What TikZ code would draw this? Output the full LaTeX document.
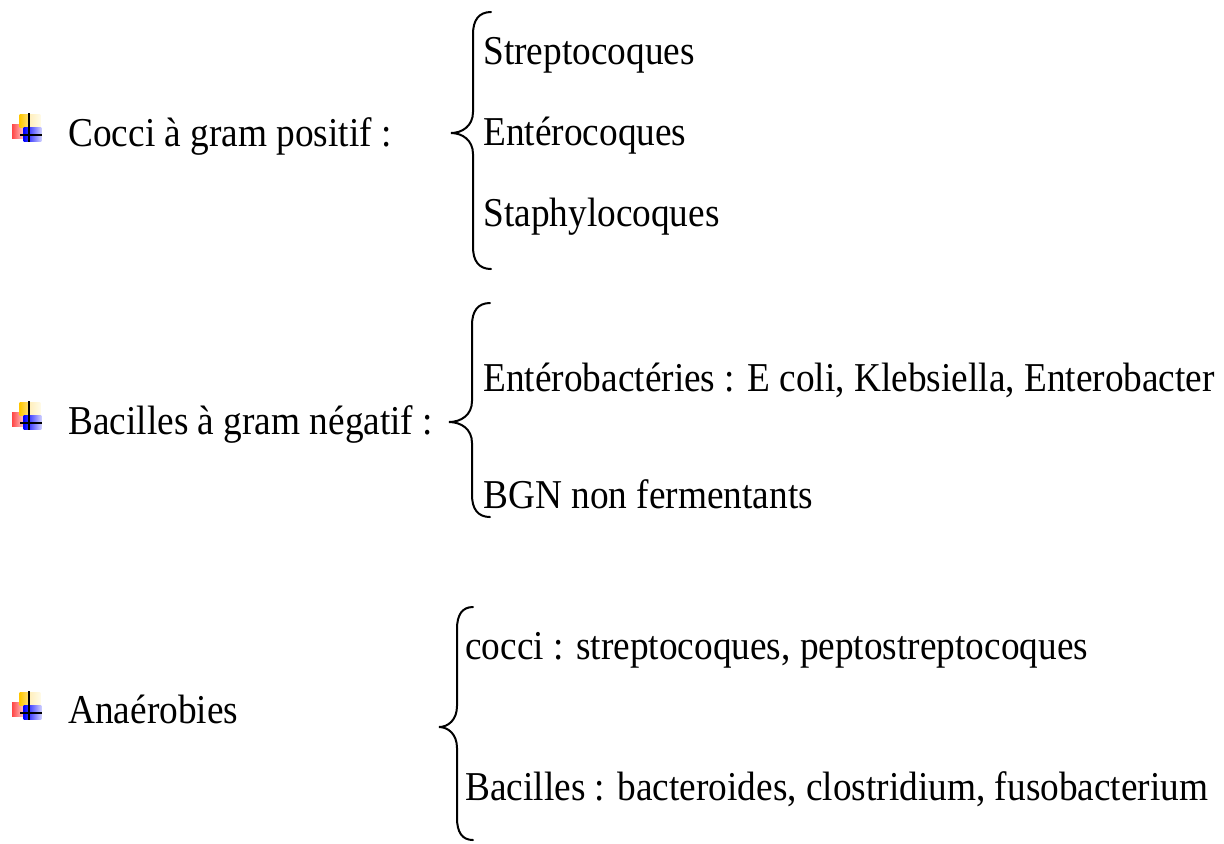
\documentclass[tikz,border=0pt]{standalone}
\usepackage{fontspec}
\setmainfont{Liberation Serif}[FakeStretch=0.91]
\begin{document}
\begin{tikzpicture}[x=0.5pt,y=-0.5pt,
  lbl/.style={anchor=base west,inner sep=0pt,font=\fontsize{20.5pt}{24pt}\selectfont},
  brc/.style={line width=1pt,line cap=round}]
\useasboundingbox (0,0) rectangle (1224,843);
% bullet icon
\newcommand{\myicon}[2]{%
  \begin{scope}[shift={(#1,#2)}]
    \shade[left color={rgb,255:red,255;green,70;blue,70},right color={rgb,255:red,255;green,205;blue,205}] (0,11) rectangle (11.7,25);
    \shade[left color={rgb,255:red,255;green,200;blue,0},right color={rgb,255:red,255;green,225;blue,120}] (7.7,1.7) rectangle (16.7,14.3);
    \shade[left color={rgb,255:red,255;green,238;blue,185},right color={rgb,255:red,255;green,250;blue,230}] (16.7,1.7) rectangle (28.3,14.3);
    \shade[left color={rgb,255:red,0;green,0;blue,255},right color={rgb,255:red,205;green,205;blue,255}] (11.7,14.3) rectangle (29.3,28.7);
    \draw[line width=0.8pt] (16.7,0) -- (16.7,29);
    \draw[line width=0.8pt] (8.3,21.7) -- (30,21.7);
  \end{scope}}
\myicon{12}{113}
\myicon{12}{401}
\myicon{12}{691}
% left labels
\node[lbl] (g1) at (68,146) {Cocci à gram positif :};
\node[lbl] (g2) at (68,434) {Bacilles à gram négatif :};
\node[lbl] (g3) at (68,723) {Anaérobies};
% group 1
\node[lbl] (a1) at (483,64) {Streptocoques};
\node[lbl] (a2) at (483,145) {Entérocoques};
\node[lbl] (a3) at (483,226) {Staphylocoques};
% group 2
\node[lbl] (b1) at (483,391) {Entérobactéries : E coli, Klebsiella, Enterobacter};
\node[lbl] (b2) at (483,508) {BGN non fermentants};
% group 3
\node[lbl] (c1) at (465,659) {cocci : streptocoques, peptostreptocoques};
\node[lbl] (c2) at (465,800) {Bacilles : bacteroides, clostridium, fusobacterium};
% braces
\draw[brc] (491,12) .. controls (479,12) and (473,20) .. (473,34) -- (473,112)
  .. controls (473,126) and (462,133) .. (451,133)
  .. controls (462,133) and (473,140) .. (473,154) -- (473,247)
  .. controls (473,261) and (479,269) .. (491,269);
\draw[brc] (490,303) .. controls (478,303) and (472,311) .. (472,325) -- (472,401)
  .. controls (472,415) and (461,422) .. (449,422)
  .. controls (461,422) and (472,429) .. (472,443) -- (472,495)
  .. controls (472,509) and (478,517) .. (490,517);
\draw[brc] (473,607) .. controls (462,607) and (457,615) .. (457,629) -- (457,706)
  .. controls (457,720) and (448,727) .. (439,727)
  .. controls (448,727) and (457,734) .. (457,748) -- (457,818)
  .. controls (457,832) and (462,840) .. (473,840);
\end{tikzpicture}
\end{document}
